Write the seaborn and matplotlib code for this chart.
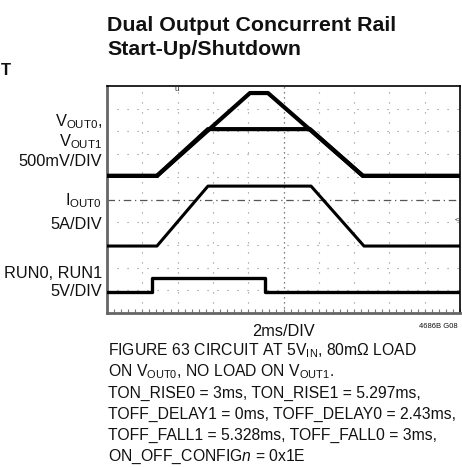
import matplotlib
matplotlib.use("Agg")
import matplotlib.pyplot as plt
import seaborn as sns
import pandas as pd
import numpy as np

# ---- data (time in ms, amplitude in scope divisions) ----
vout1_t = [0, 2.83, 8.10, 9.12, 14.50, 20]
vout1_v = [6.04, 6.04, 9.69, 9.69, 6.04, 6.04]
vout0_t = [0, 2.83, 5.72, 11.50, 14.50, 20]
vout0_v = [6.04, 6.04, 8.10, 8.10, 6.04, 6.04]
iout0_t = [0, 2.83, 5.72, 11.56, 14.56, 20]
iout0_v = [2.95, 2.95, 5.59, 5.59, 2.95, 2.95]
run_t = [0, 2.55, 2.55, 8.95, 8.95, 20]
run_v = [0.93, 0.93, 1.54, 1.54, 0.93, 0.93]

sns.set_theme(style="white")
plt.rcParams['font.family'] = ['Liberation Sans', 'DejaVu Sans']
plt.rcParams['mathtext.fontset'] = 'custom'
plt.rcParams['mathtext.rm'] = 'Liberation Sans'
plt.rcParams['mathtext.it'] = 'Liberation Sans:italic'
plt.rcParams['mathtext.bf'] = 'Liberation Sans:bold'

fig = plt.figure(figsize=(4.62, 4.67), dpi=100)
ax = fig.add_axes([107/462, 1-313/467, 353/462, 227/467])

# grid
gcol = '#8a8a8a'
for t in np.arange(2, 20, 2):
    if t == 10:
        continue
    ax.axvline(t, color=gcol, lw=0.8, ls=(0, (1, 8)), zorder=1)
for y in range(1, 10):
    if y == 5:
        continue
    ax.axhline(y, color=gcol, lw=0.8, ls=(0, (1, 8)), zorder=1)
ax.axvline(10, color='#555555', lw=0.9, ls=(0, (1, 3)), zorder=1)
ax.axhline(5, color='#555555', lw=0.9, ls=(0, (6, 3, 1, 3)), zorder=1)

# traces
def trace(t, v, lw):
    df = pd.DataFrame({'t': t, 'v': v})
    sns.lineplot(data=df, x='t', y='v', sort=False, estimator=None,
                 color='black', lw=lw, ax=ax, zorder=3)

trace(vout1_t, vout1_v, 3.0)
trace(vout0_t, vout0_v, 3.0)
trace(iout0_t, iout0_v, 2.2)
trace(run_t, run_v, 2.4)

ax.set_xlim(0, 20)
ax.set_ylim(0, 10)
ax.set_xlabel('')
ax.set_ylabel('')
ax.set_xticks([])
ax.set_yticks([])
ax.set_xticks(np.arange(0, 20.01, 0.4), minor=True)
ax.tick_params(axis='x', which='minor', direction='in', length=3, width=0.8,
               color='#777777', bottom=True)
for s in ['left', 'bottom']:
    ax.spines[s].set_color('#666666')
    ax.spines[s].set_linewidth(2.0)
for s in ['top', 'right']:
    ax.spines[s].set_color('black')
    ax.spines[s].set_linewidth(1.2)

# trigger marks
ax.text(3.97, 9.85, 'u', fontsize=6, ha='center', va='center', color='#333333')
ax.text(19.85, 4.1, '<', fontsize=6, ha='center', va='center', color='#333333')

# title
tfam = ['Liberation Sans Narrow', 'Liberation Sans']
fig.text(107/462, 1-31/467, 'Dual Output Concurrent Rail', family=tfam,
         fontweight='bold', fontsize=15.4, ha='left', va='baseline', color='#111111')
fig.text(107/462, 1-55/467, 'Start-Up/Shutdown', family=tfam,
         fontweight='bold', fontsize=15.4, ha='left', va='baseline', color='#111111')
fig.text(1/462, 1-75/467, 'T', family=tfam,
         fontweight='bold', fontsize=12, ha='left', va='baseline', color='#111111')

# channel labels
lx = 102/462
fs = 11.8
def lab(y, s):
    fig.text(lx, 1-y/467, s, fontsize=fs, ha='right', va='center', color='#111111')
lab(122, r'V$_{\mathrm{OUT0}}$,')
lab(142, r'V$_{\mathrm{OUT1}}$')
lab(162, '500mV/DIV')
lab(201, r'I$_{\mathrm{OUT0}}$')
lab(224, '5A/DIV')
lab(273, 'RUN0, RUN1')
lab(292, '5V/DIV')

fig.text(283/462, 1-332/467, '2ms/DIV', fontsize=fs, ha='center', va='center', color='#111111')
fig.text(458/462, 1-327/467, '4686B G08', fontsize=5.5, ha='right', va='center', color='#111111')

cap = [
    r'FIGURE 63 CIRCUIT AT 5V$_{\mathrm{IN}}$, 80m$\Omega$ LOAD',
    r'ON V$_{\mathrm{OUT0}}$, NO LOAD ON V$_{\mathrm{OUT1}}$.',
    'TON_RISE0 = 3ms, TON_RISE1 = 5.297ms,',
    'TOFF_DELAY1 = 0ms, TOFF_DELAY0 = 2.43ms,',
    'TOFF_FALL1 = 5.328ms, TOFF_FALL0 = 3ms,',
    r'ON_OFF_CONFIG$\mathit{n}$ = 0x1E',
]
for i, s in enumerate(cap):
    fig.text(108/462, 1-(355 + 21.2*i)/467, s, fontsize=11.3, ha='left', va='baseline',
             color='#111111')

fig.savefig('out.png', dpi=100)
